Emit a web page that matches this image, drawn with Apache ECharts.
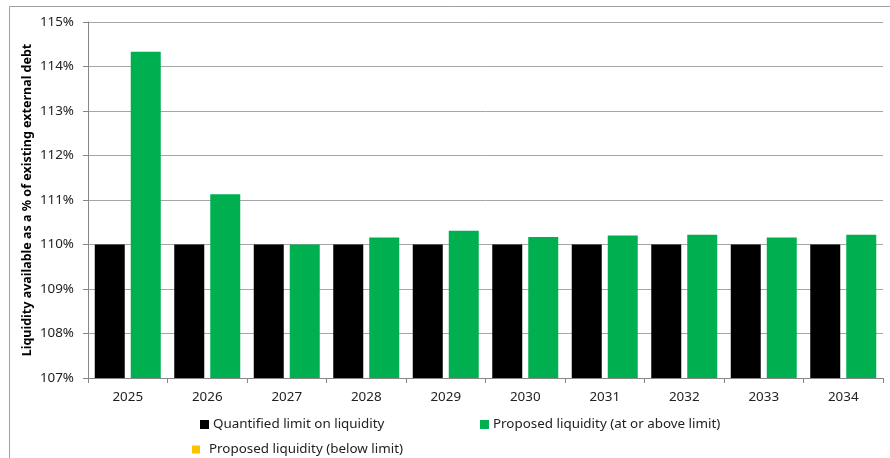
<!DOCTYPE html>
<html>
<head>
<meta charset="utf-8">
<script src="https://cdn.jsdelivr.net/npm/echarts@6/dist/echarts.min.js"></script>
<style>
  html, body { margin: 0; padding: 0; background: #fff; }
  #chart { width: 890px; height: 458px; }
</style>
</head>
<body>
<div id="chart"></div>
<script>
// Liquidity vs. the quantified limit, by year (values in %)
const years = ['2025', '2026', '2027', '2028', '2029', '2030', '2031', '2032', '2033', '2034'];
const quantifiedLimit = [110, 110, 110, 110, 110, 110, 110, 110, 110, 110];
const proposedAtOrAbove = [114.33, 111.13, 110.0, 110.16, 110.31, 110.17, 110.2, 110.22, 110.16, 110.22];
const proposedBelow = [null, null, null, null, null, null, null, null, null, null];
const yTicks = { min: 107, max: 115, step: 1 };

const FONT = 'Noto Sans';
const chart = echarts.init(document.getElementById('chart'), null, { renderer: 'canvas' });

const legendText = { fontFamily: FONT, fontSize: 13.4, color: '#222' };

chart.setOption({
  animation: false,
  textStyle: { fontFamily: FONT },
  graphic: [{
    type: 'rect',
    shape: { x: 9.5, y: 6.5, width: 900, height: 500 },
    style: { fill: 'none', stroke: '#a0a0a0', lineWidth: 1 },
    silent: true
  }],
  grid: { left: 88, right: 7, top: 22, bottom: 80, containLabel: false },
  legend: [
    {
      data: ['Quantified limit on liquidity'],
      left: 200, top: 418, padding: 0,
      itemWidth: 9, itemHeight: 9, itemGap: 0,
      icon: 'rect', textStyle: Object.assign({ padding: [0, 0, 0, -1] }, legendText)
    },
    {
      data: ['Proposed liquidity (at or above limit)'],
      left: 480, top: 418, padding: 0,
      itemWidth: 9, itemHeight: 9, itemGap: 0,
      icon: 'rect', textStyle: Object.assign({ padding: [0, 0, 0, -1] }, legendText)
    },
    {
      data: ['Proposed liquidity (below limit)'],
      left: 192, top: 443, padding: 0,
      itemWidth: 8, itemHeight: 8, itemGap: 0,
      icon: 'rect', textStyle: Object.assign({ padding: [0, 0, 0, 4] }, legendText)
    }
  ],
  xAxis: {
    type: 'category',
    data: years,
    boundaryGap: true,
    axisLine: { lineStyle: { color: '#868686', width: 1 } },
    axisTick: { show: true, alignWithLabel: false, length: 5, lineStyle: { color: '#868686' } },
    axisLabel: { fontFamily: FONT, fontSize: 13.4, color: '#222', margin: 13 }
  },
  yAxis: {
    type: 'value',
    min: yTicks.min, max: yTicks.max, interval: yTicks.step,
    name: 'Liquidity available as a % of existing external debt',
    nameLocation: 'middle',
    nameRotate: 90,
    nameGap: 54,
    nameMoveOverlap: false,
    nameTextStyle: { fontFamily: FONT, fontSize: 12.5, fontWeight: 'bold', color: '#000' },
    axisLine: { show: true, lineStyle: { color: '#868686', width: 1 } },
    axisTick: { show: true, length: 5, lineStyle: { color: '#868686' } },
    splitLine: { show: true, lineStyle: { color: '#a6a6a6', width: 1 } },
    axisLabel: {
      fontFamily: FONT, fontSize: 13.4, color: '#222', margin: 14,
      formatter: v => v + '%'
    }
  },
  series: [
    {
      name: 'Quantified limit on liquidity',
      type: 'bar',
      data: quantifiedLimit,
      barWidth: 30,
      barGap: '20%',
      itemStyle: { color: '#000000' }
    },
    {
      name: 'Proposed liquidity (at or above limit)',
      type: 'bar',
      stack: 'proposed',
      data: proposedAtOrAbove,
      barWidth: 30,
      itemStyle: { color: '#00b050' }
    },
    {
      name: 'Proposed liquidity (below limit)',
      type: 'bar',
      stack: 'proposed',
      data: proposedBelow,
      barWidth: 30,
      itemStyle: { color: '#ffc000' }
    }
  ]
});
</script>
</body>
</html>
